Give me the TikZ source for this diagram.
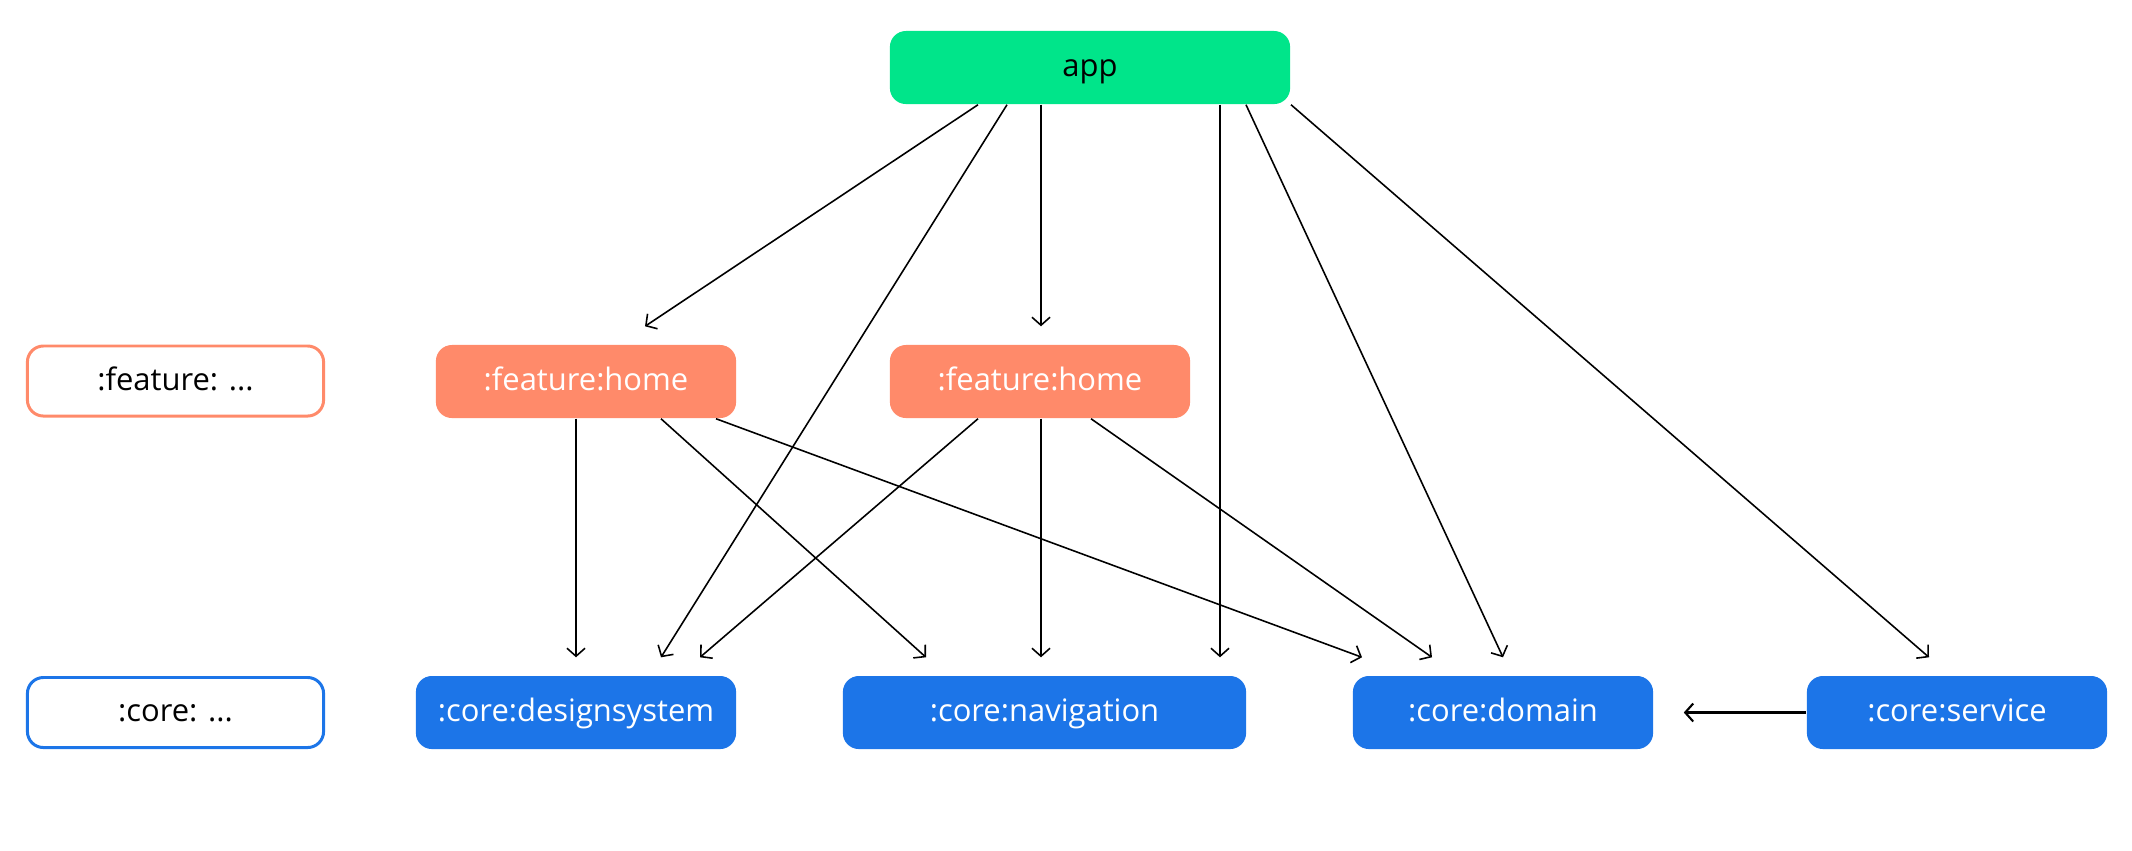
\documentclass[tikz,border=0pt]{standalone}
\usepackage{fontspec}
\setmainfont{Open Sans}
\usepackage{tikz}
\usetikzlibrary{arrows.meta,calc,positioning}

\definecolor{appgreen}{HTML}{00E58A}
\definecolor{featorange}{HTML}{FF8A6A}
\definecolor{coreblue}{HTML}{1C75E8}

\tikzset{
  module/.style={rounded corners=0.16cm, minimum height=0.73cm, inner sep=0pt,
    text height=1ex, text depth=0pt,
    font=\fontsize{8.8}{10}\selectfont, text=white},
  appbox/.style={module, fill=appgreen, text=black, minimum width=4cm},
  featbox/.style={module, fill=featorange, minimum width=3cm},
  corebox/.style={module, fill=coreblue},
  legend/.style={module, fill=white, text=black, line width=0.85pt,
    minimum width=2.96cm, minimum height=0.70cm},
  dep/.style={-{Straight Barb[length=0.8mm,width=1.8mm]}, line width=0.45pt}
}

\begin{document}
\begin{tikzpicture}[x=0.01cm,y=-0.01cm]
      \useasboundingbox (0,0) rectangle (2132,850);
      % modules
      \node[appbox] (app) at (1090,67.5) {app};
      \node[legend, draw=featorange] (featkey) at (175.5,381) {:feature: ...};
      \node[featbox] (home1) at (586,381.5) {:feature:home};
      \node[featbox] (home2) at (1040,381.5) {:feature:home};
      \node[legend, draw=coreblue] (corekey) at (175.5,712.5) {:core: ...};
      \node[corebox, minimum width=3.2cm] (dsys) at (576,712.5) {:core:designsystem};
      \node[corebox, minimum width=4.03cm] (nav) at (1044.5,712.5) {:core:navigation};
      \node[corebox, minimum width=3cm] (dom) at (1503,712.5) {:core:domain};
      \node[corebox, minimum width=3cm] (serv) at (1957,712.5) {:core:service};
      % app dependencies
      \draw[dep] ([shift={(-112,0)}]app.south) -- ([shift={(59,-18)}]home1.north);
      \draw[dep] ([shift={(-83,0)}]app.south) -- ([shift={(85,-18)}]dsys.north);
      \draw[dep] ([shift={(-49,0)}]app.south) -- ([shift={(1,-18)}]home2.north);
      \draw[dep] ([shift={(130,0)}]app.south) -- ([shift={(175.5,-18)}]nav.north);
      \draw[dep] ([shift={(156,0)}]app.south) -- ([shift={(0,-18)}]dom.north);
      \draw[dep] ([shift={(201,0)}]app.south) -- ([shift={(-28,-18)}]serv.north);
      % feature dependencies
      \draw[dep] ([shift={(-10,0)}]home1.south) -- ([shift={(0,-18)}]dsys.north);
      \draw[dep] ([shift={(75,0)}]home1.south) -- ([shift={(-118.5,-18)}]nav.north);
      \draw[dep] ([shift={(130,0)}]home1.south) -- ([shift={(-141,-18)}]dom.north);
      \draw[dep] ([shift={(-62,0)}]home2.south) -- ([shift={(124,-18)}]dsys.north);
      \draw[dep] ([shift={(1,0)}]home2.south) -- ([shift={(-3.5,-18)}]nav.north);
      \draw[dep] ([shift={(51,0)}]home2.south) -- ([shift={(-71,-18)}]dom.north);
      % core
      \draw[dep, line width=0.6pt] (serv.west) -- ([shift={(30,0)}]dom.east);
    \end{tikzpicture}
\end{document}
